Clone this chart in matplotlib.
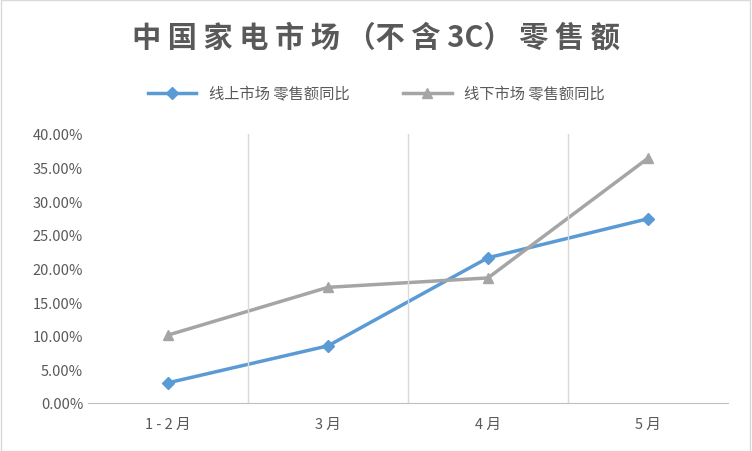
import matplotlib
matplotlib.use("Agg")
import matplotlib.pyplot as plt
from matplotlib.ticker import FuncFormatter
from matplotlib.patches import Rectangle

plt.rcParams['font.family'] = ['Noto Sans CJK SC', 'DejaVu Sans']

categories = ["1-2月", "3月", "4月", "5月"]
online = [0.030, 0.085, 0.216, 0.274]
offline = [0.101, 0.172, 0.186, 0.364]

fig = plt.figure(figsize=(7.52, 4.52), dpi=100)
fig.patches.append(Rectangle((0.001, 0.001), 0.997, 0.997, transform=fig.transFigure,
                             fill=False, edgecolor='#D9D9D9', lw=1))
ax = fig.add_axes([88/752, 48/452, 640/752, 269/452])
x = list(range(len(categories)))
ax.plot(x, online, color='#5B9BD5', lw=2.5, marker='D', ms=6, label='线上市场 零售额同比')
ax.plot(x, offline, color='#A5A5A5', lw=2.5, marker='^', ms=7, label='线下市场 零售额同比')
ax.set_xlim(-0.5, 3.5)
ax.set_ylim(0, 0.4)
ax.set_yticks([i*0.05 for i in range(9)])
ax.yaxis.set_major_formatter(FuncFormatter(lambda v, p: f"{v*100:.2f}%"))
ax.set_xticks(x)
ax.set_xticklabels(["1 - 2 月", "3 月", "4 月", "5 月"])
for b in [0.5, 1.5, 2.5]:
    ax.axvline(b, color='#D9D9D9', lw=1)
for s in ['top', 'right', 'left']:
    ax.spines[s].set_visible(False)
ax.spines['bottom'].set_color('#BFBFBF')
ax.tick_params(axis='both', length=0, colors='#595959', labelsize=10.5)
ax.tick_params(axis='x', pad=10)
fig.text(0.5, 1-38/452, "中 国 家 电 市 场 （不 含 3C） 零 售 额", ha='center', va='center',
         fontsize=21, color='#595959', fontweight='bold')
fig.legend(loc='center', bbox_to_anchor=(0.5, 1-95/452), ncol=2, frameon=False,
           fontsize=11, labelcolor='#595959', handlelength=3.2, columnspacing=3.5)
fig.savefig("out.png", dpi=100)
